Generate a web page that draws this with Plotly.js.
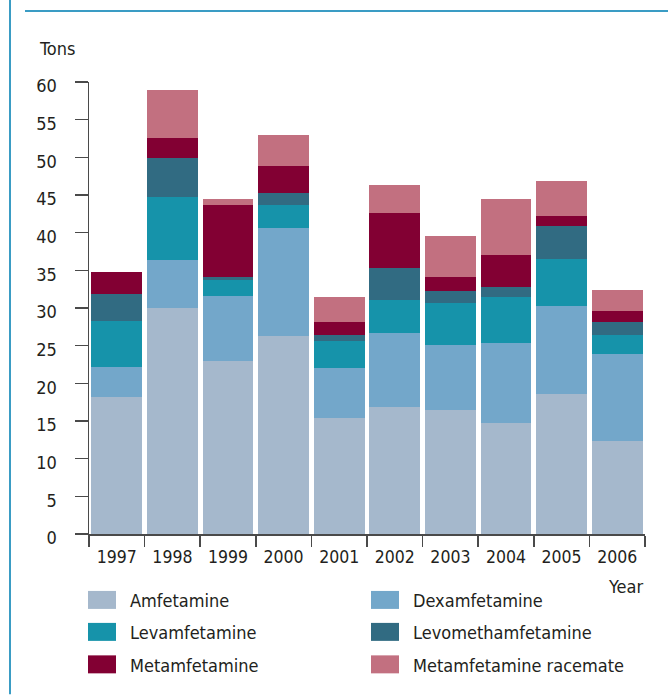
<!DOCTYPE html>
<html>
<head>
<meta charset="utf-8">
<script src="https://cdn.plot.ly/plotly-3.0.1.min.js"></script>
<style>
  html, body { margin: 0; padding: 0; background: #ffffff; }
  #chart { width: 668px; height: 695px; }
</style>
</head>
<body>
<div id="chart"></div>
<script>
// ---- data ----
const years = ['1997', '1998', '1999', '2000', '2001', '2002', '2003', '2004', '2005', '2006'];
const amfetamine = [18.2, 30.0, 23.0, 26.3, 15.4, 16.8, 16.4, 14.7, 18.6, 12.3];
const dexamfetamine = [4.0, 6.4, 8.6, 14.3, 6.7, 9.9, 8.7, 10.7, 11.6, 11.6];
const levamfetamine = [6.1, 8.3, 2.1, 3.1, 3.5, 4.4, 5.6, 6.0, 6.3, 2.5];
const levomethamfetamine = [3.6, 5.2, 0.4, 1.6, 0.8, 4.2, 1.6, 1.4, 4.4, 1.8];
const metamfetamine = [2.9, 2.7, 9.6, 3.6, 1.8, 7.3, 1.8, 4.3, 1.3, 1.4];
const metamfetamineRacemate = [0, 6.3, 0.8, 4.1, 3.2, 3.7, 5.5, 7.4, 4.7, 2.8];

const seriesNames = ['Amfetamine', 'Dexamfetamine', 'Levamfetamine', 'Levomethamfetamine', 'Metamfetamine', 'Metamfetamine racemate'];
const seriesValues = [amfetamine, dexamfetamine, levamfetamine, levomethamfetamine, metamfetamine, metamfetamineRacemate];
const seriesColors = ['#a5b8cc', '#73a7ca', '#1693aa', '#316b82', '#820033', '#c27080'];
const yTicks = [0, 5, 10, 15, 20, 25, 30, 35, 40, 45, 50, 55, 60];

// ---- layout geometry (pixels) ----
const W = 668, H = 695;
const L = 89, R = 645, T = 82, B = 534.5;
const px = x => (x - L) / (R - L);
const py = y => (B - y) / (B - T);

const FONT = '"DejaVu Sans Condensed", "Liberation Sans Narrow", "Roboto", sans-serif';
const TXT = '#231f20';

const traces = seriesNames.map((name, i) => ({
  type: 'bar',
  name: name,
  x: years,
  y: seriesValues[i],
  marker: { color: seriesColors[i], line: { width: 0 } },
  hoverinfo: 'x+y+name'
}));

const shapes = [
  // frame lines
  { type: 'line', xref: 'paper', yref: 'paper', x0: px(10), x1: px(10), y0: py(0), y1: py(H), line: { color: '#3a9cc4', width: 2 } },
  { type: 'line', xref: 'paper', yref: 'paper', x0: px(25), x1: px(W), y0: py(11), y1: py(11), line: { color: '#3a9cc4', width: 2 } }
];

const annotations = [
  { xref: 'paper', yref: 'paper', x: px(37), y: py(48), xanchor: 'left', yanchor: 'middle', text: 'Tons', showarrow: false, font: { family: FONT, size: 18, color: TXT } },
  { xref: 'paper', yref: 'paper', x: px(645), y: py(587), xanchor: 'right', yanchor: 'middle', text: 'Year', showarrow: false, font: { family: FONT, size: 18, color: TXT } }
];

// custom legend: 2 columns x 3 rows
const colSwatchX = [88, 371];
const colTextX = [128, 411];
const rowY = [600.5, 632.5, 665];
seriesNames.forEach((name, i) => {
  const c = i % 2, r = Math.floor(i / 2);
  shapes.push({ type: 'rect', xref: 'paper', yref: 'paper',
    x0: px(colSwatchX[c]), x1: px(colSwatchX[c] + 28),
    y0: py(rowY[r] - 9), y1: py(rowY[r] + 9),
    fillcolor: seriesColors[i], line: { width: 0 } });
  annotations.push({ xref: 'paper', yref: 'paper', x: px(colTextX[c]), y: py(rowY[r] + 1),
    xanchor: 'left', yanchor: 'middle', text: name, showarrow: false,
    font: { family: FONT, size: 18, color: TXT } });
});

const layout = {
  width: W, height: H,
  margin: { l: L, r: W - R, t: T, b: H - B, pad: 0 },
  paper_bgcolor: '#ffffff', plot_bgcolor: '#ffffff',
  barmode: 'stack',
  bargap: 0.083,
  showlegend: false,
  font: { family: FONT, size: 18, color: TXT },
  xaxis: {
    type: 'category',
    showline: true, linecolor: '#4a4a4a', linewidth: 1.5,
    ticks: 'outside', tickson: 'boundaries', ticklen: 11, tickcolor: '#4a4a4a', tickwidth: 1.5,
    showgrid: false, zeroline: false,
    tickfont: { family: FONT, size: 17.5, color: TXT },
    ticklabelstandoff: 6,
    fixedrange: true
  },
  yaxis: {
    range: [0, 60],
    tickvals: yTicks,
    ticktext: yTicks.map(String),
    showline: true, linecolor: '#4a4a4a', linewidth: 1.5,
    ticks: 'outside', ticklen: 13, tickcolor: '#4a4a4a', tickwidth: 1.5,
    showgrid: false, zeroline: false,
    tickfont: { family: FONT, size: 18, color: TXT },
    ticklabelstandoff: 14,
    ticklabelshift: 4,
    fixedrange: true
  },
  shapes: shapes,
  annotations: annotations
};

Plotly.newPlot('chart', traces, layout, { displayModeBar: false, staticPlot: true });
</script>
</body>
</html>
